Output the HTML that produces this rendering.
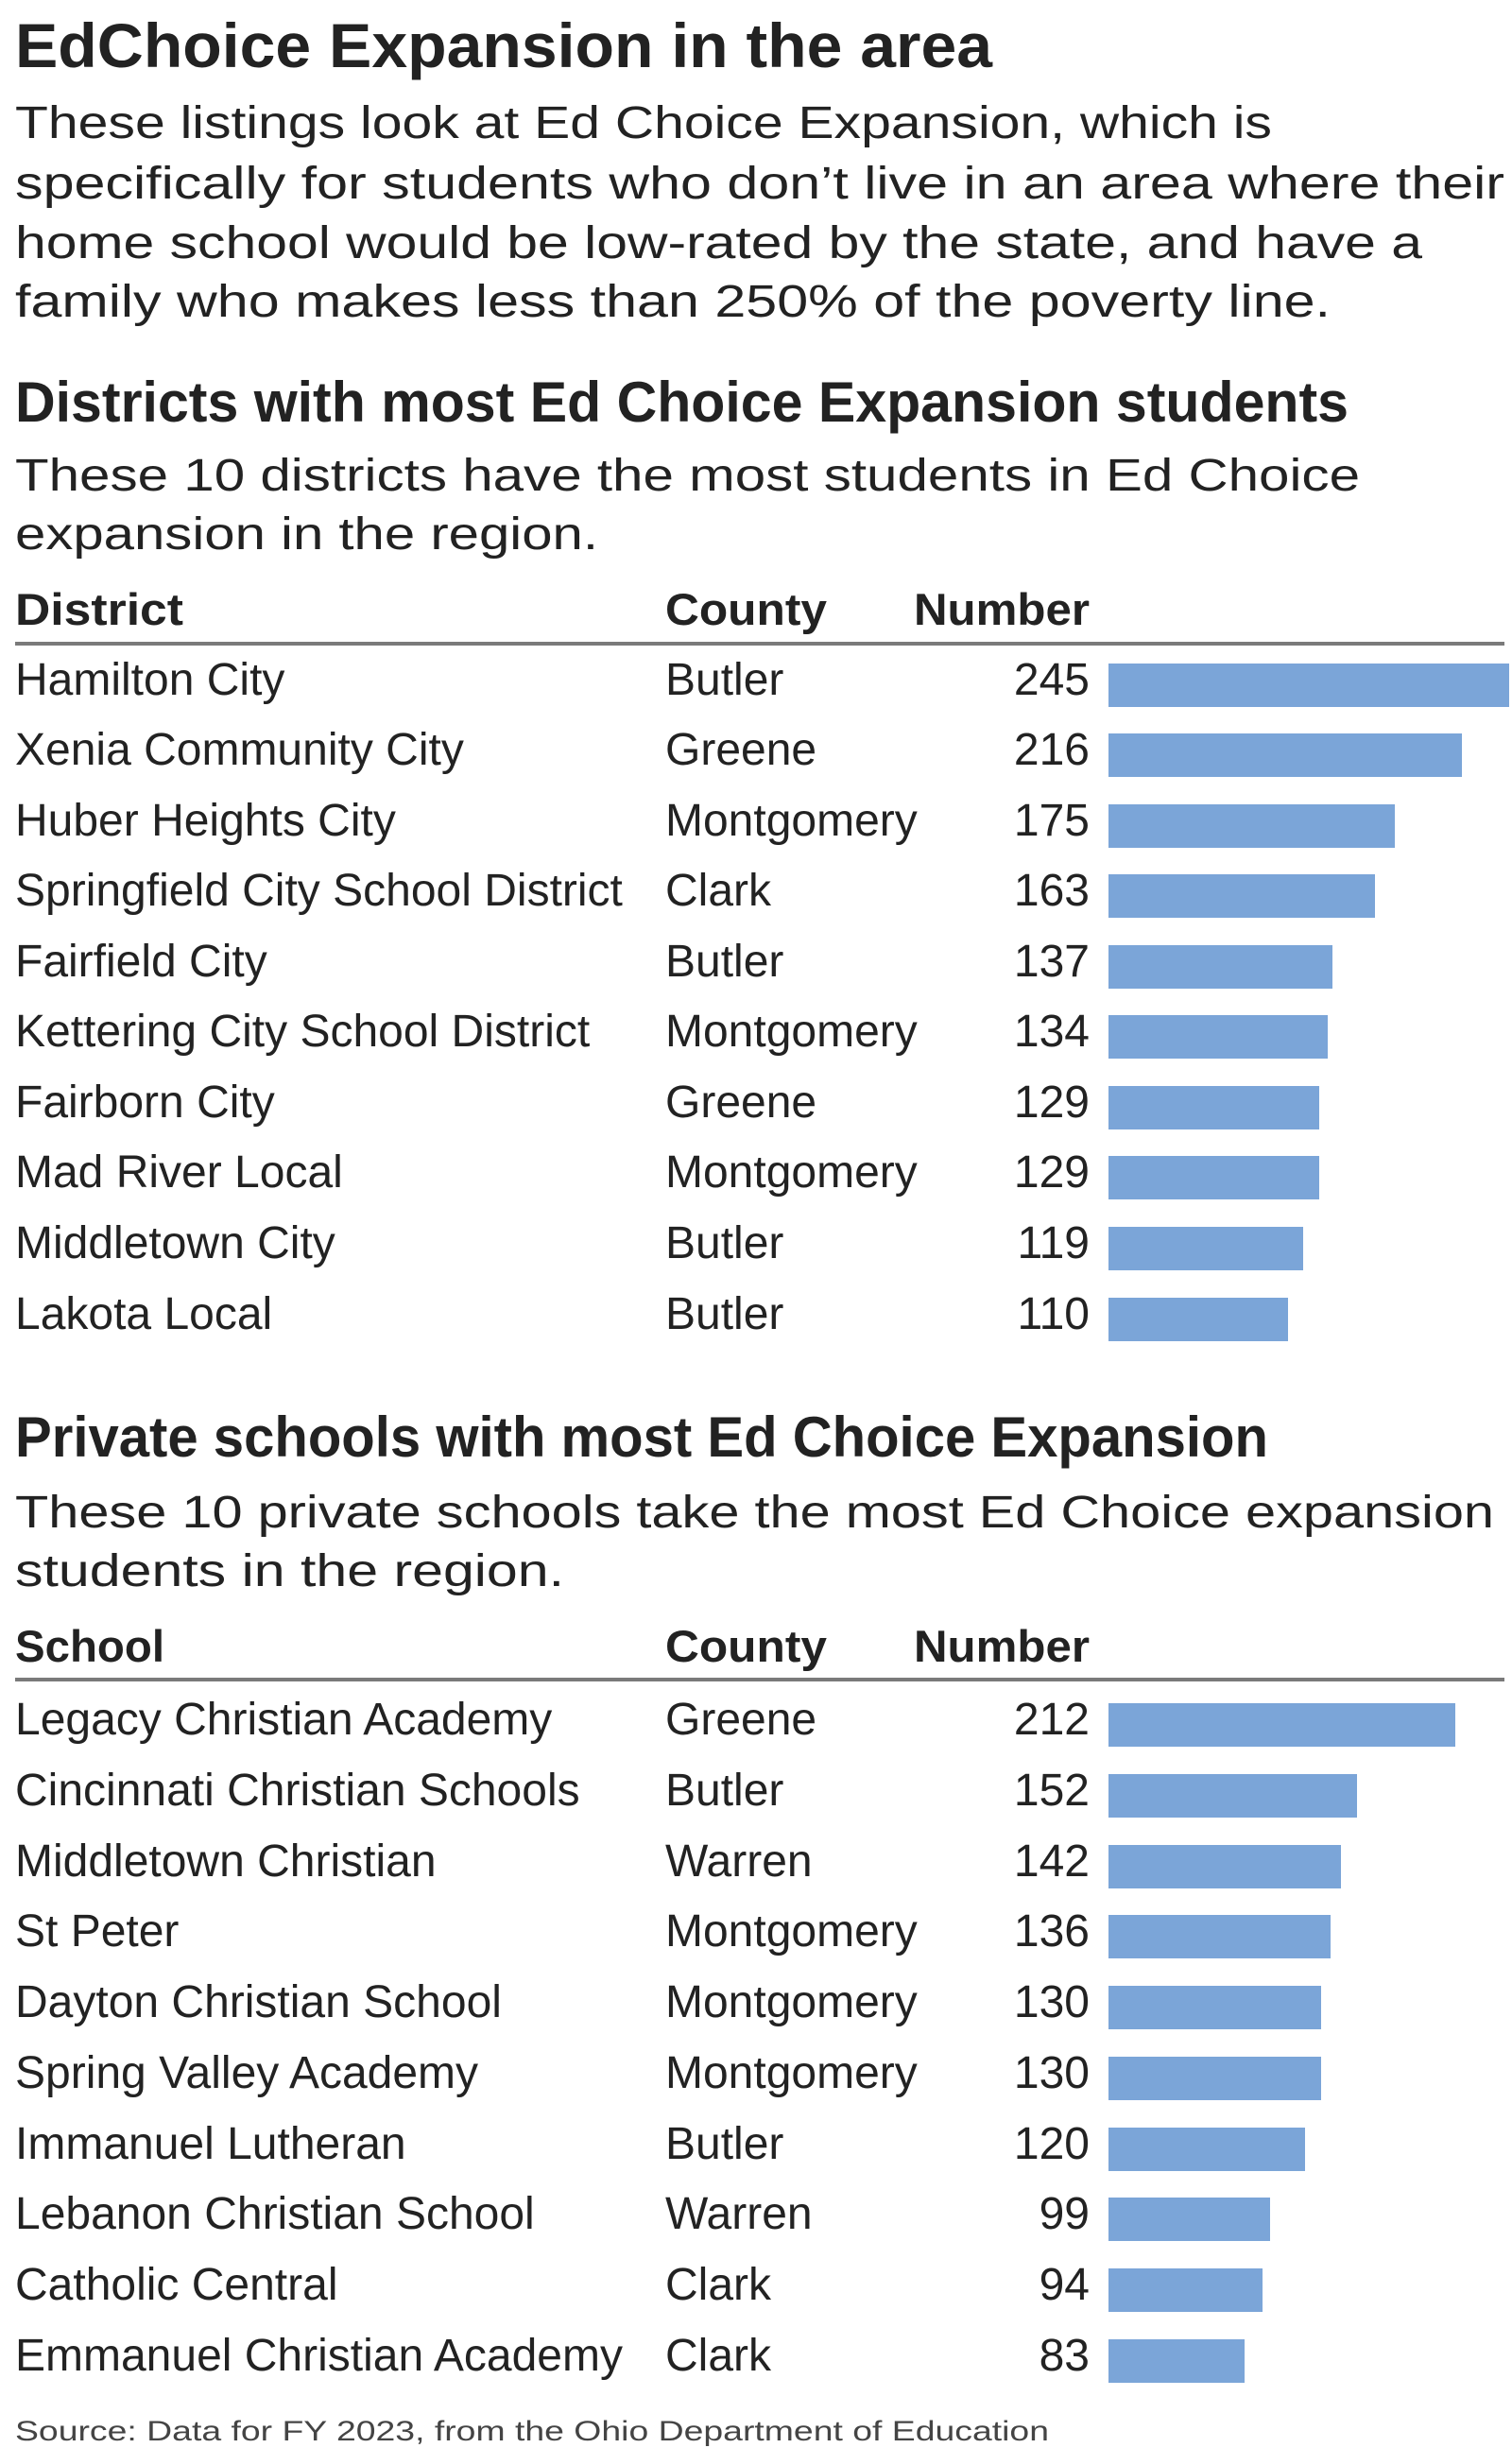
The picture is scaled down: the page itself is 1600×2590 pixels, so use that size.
<!DOCTYPE html>
<html><head><meta charset="utf-8"><style>
html,body{margin:0;padding:0;background:#fff;}
svg{display:block;}
text{font-family:"Liberation Sans",sans-serif;fill:#222;}
.h{font-weight:bold;}
.t{font-size:48px;}
.b{fill:#7ba5d8;}
</style></head><body>
<svg width="1600" height="2590" viewBox="0 0 1600 2590" xmlns="http://www.w3.org/2000/svg">
<text class="h" x="16" y="71" font-size="66" textLength="1034" lengthAdjust="spacingAndGlyphs">EdChoice Expansion in the area</text>
<g font-size="48">
<text x="16" y="146" textLength="1330" lengthAdjust="spacingAndGlyphs">These listings look at Ed Choice Expansion, which is</text>
<text x="16" y="210" textLength="1576" lengthAdjust="spacingAndGlyphs">specifically for students who don’t live in an area where their</text>
<text x="16" y="273" textLength="1489" lengthAdjust="spacingAndGlyphs">home school would be low-rated by the state, and have a</text>
<text x="16" y="335" textLength="1392" lengthAdjust="spacingAndGlyphs">family who makes less than 250% of the poverty line.</text>
</g>
<text class="h" x="16" y="446" font-size="60" textLength="1411" lengthAdjust="spacingAndGlyphs">Districts with most Ed Choice Expansion students</text>
<text x="16" y="519" font-size="48" textLength="1423" lengthAdjust="spacingAndGlyphs">These 10 districts have the most students in Ed Choice</text>
<text x="16" y="581" font-size="48" textLength="617" lengthAdjust="spacingAndGlyphs">expansion in the region.</text>
<g class="h" font-size="47">
<text x="16" y="661" textLength="178" lengthAdjust="spacingAndGlyphs">District</text>
<text x="704" y="661" textLength="171" lengthAdjust="spacingAndGlyphs">County</text>
<text x="967" y="661" textLength="186" lengthAdjust="spacingAndGlyphs">Number</text>
</g>
<rect x="16" y="679" width="1576" height="4" fill="#7a7a7a"/>
<g class="t">
<text x="16" y="735">Hamilton City</text><text x="704" y="735">Butler</text><text x="1153" y="735" text-anchor="end">245</text><rect class="b" x="1173" y="702" width="424" height="46"/>
<text x="16" y="809">Xenia Community City</text><text x="704" y="809">Greene</text><text x="1153" y="809" text-anchor="end">216</text><rect class="b" x="1173" y="776" width="374" height="46"/>
<text x="16" y="884">Huber Heights City</text><text x="704" y="884">Montgomery</text><text x="1153" y="884" text-anchor="end">175</text><rect class="b" x="1173" y="851" width="303" height="46"/>
<text x="16" y="958">Springfield City School District</text><text x="704" y="958">Clark</text><text x="1153" y="958" text-anchor="end">163</text><rect class="b" x="1173" y="925" width="282" height="46"/>
<text x="16" y="1033">Fairfield City</text><text x="704" y="1033">Butler</text><text x="1153" y="1033" text-anchor="end">137</text><rect class="b" x="1173" y="1000" width="237" height="46"/>
<text x="16" y="1107">Kettering City School District</text><text x="704" y="1107">Montgomery</text><text x="1153" y="1107" text-anchor="end">134</text><rect class="b" x="1173" y="1074" width="232" height="46"/>
<text x="16" y="1182">Fairborn City</text><text x="704" y="1182">Greene</text><text x="1153" y="1182" text-anchor="end">129</text><rect class="b" x="1173" y="1149" width="223" height="46"/>
<text x="16" y="1256">Mad River Local</text><text x="704" y="1256">Montgomery</text><text x="1153" y="1256" text-anchor="end">129</text><rect class="b" x="1173" y="1223" width="223" height="46"/>
<text x="16" y="1331">Middletown City</text><text x="704" y="1331">Butler</text><text x="1153" y="1331" text-anchor="end">119</text><rect class="b" x="1173" y="1298" width="206" height="46"/>
<text x="16" y="1406">Lakota Local</text><text x="704" y="1406">Butler</text><text x="1153" y="1406" text-anchor="end">110</text><rect class="b" x="1173" y="1373" width="190" height="46"/>
</g>
<text class="h" x="16" y="1541" font-size="60" textLength="1326" lengthAdjust="spacingAndGlyphs">Private schools with most Ed Choice Expansion</text>
<text x="16" y="1616" font-size="48" textLength="1565" lengthAdjust="spacingAndGlyphs">These 10 private schools take the most Ed Choice expansion</text>
<text x="16" y="1678" font-size="48" textLength="581" lengthAdjust="spacingAndGlyphs">students in the region.</text>
<g class="h" font-size="47">
<text x="16" y="1758" textLength="158" lengthAdjust="spacingAndGlyphs">School</text>
<text x="704" y="1758" textLength="171" lengthAdjust="spacingAndGlyphs">County</text>
<text x="967" y="1758" textLength="186" lengthAdjust="spacingAndGlyphs">Number</text>
</g>
<rect x="16" y="1775" width="1576" height="4" fill="#7a7a7a"/>
<g class="t">
<text x="16" y="1835">Legacy Christian Academy</text><text x="704" y="1835">Greene</text><text x="1153" y="1835" text-anchor="end">212</text><rect class="b" x="1173" y="1802" width="367" height="46"/>
<text x="16" y="1910">Cincinnati Christian Schools</text><text x="704" y="1910">Butler</text><text x="1153" y="1910" text-anchor="end">152</text><rect class="b" x="1173" y="1877" width="263" height="46"/>
<text x="16" y="1985">Middletown Christian</text><text x="704" y="1985">Warren</text><text x="1153" y="1985" text-anchor="end">142</text><rect class="b" x="1173" y="1952" width="246" height="46"/>
<text x="16" y="2059">St Peter</text><text x="704" y="2059">Montgomery</text><text x="1153" y="2059" text-anchor="end">136</text><rect class="b" x="1173" y="2026" width="235" height="46"/>
<text x="16" y="2134">Dayton Christian School</text><text x="704" y="2134">Montgomery</text><text x="1153" y="2134" text-anchor="end">130</text><rect class="b" x="1173" y="2101" width="225" height="46"/>
<text x="16" y="2209">Spring Valley Academy</text><text x="704" y="2209">Montgomery</text><text x="1153" y="2209" text-anchor="end">130</text><rect class="b" x="1173" y="2176" width="225" height="46"/>
<text x="16" y="2284">Immanuel Lutheran</text><text x="704" y="2284">Butler</text><text x="1153" y="2284" text-anchor="end">120</text><rect class="b" x="1173" y="2251" width="208" height="46"/>
<text x="16" y="2358">Lebanon Christian School</text><text x="704" y="2358">Warren</text><text x="1153" y="2358" text-anchor="end">99</text><rect class="b" x="1173" y="2325" width="171" height="46"/>
<text x="16" y="2433">Catholic Central</text><text x="704" y="2433">Clark</text><text x="1153" y="2433" text-anchor="end">94</text><rect class="b" x="1173" y="2400" width="163" height="46"/>
<text x="16" y="2508">Emmanuel Christian Academy</text><text x="704" y="2508">Clark</text><text x="1153" y="2508" text-anchor="end">83</text><rect class="b" x="1173" y="2475" width="144" height="46"/>
</g>
<text x="16" y="2582" font-size="30" style="fill:#444" textLength="1094" lengthAdjust="spacingAndGlyphs">Source: Data for FY 2023, from the Ohio Department of Education</text>
</svg>
</body></html>
